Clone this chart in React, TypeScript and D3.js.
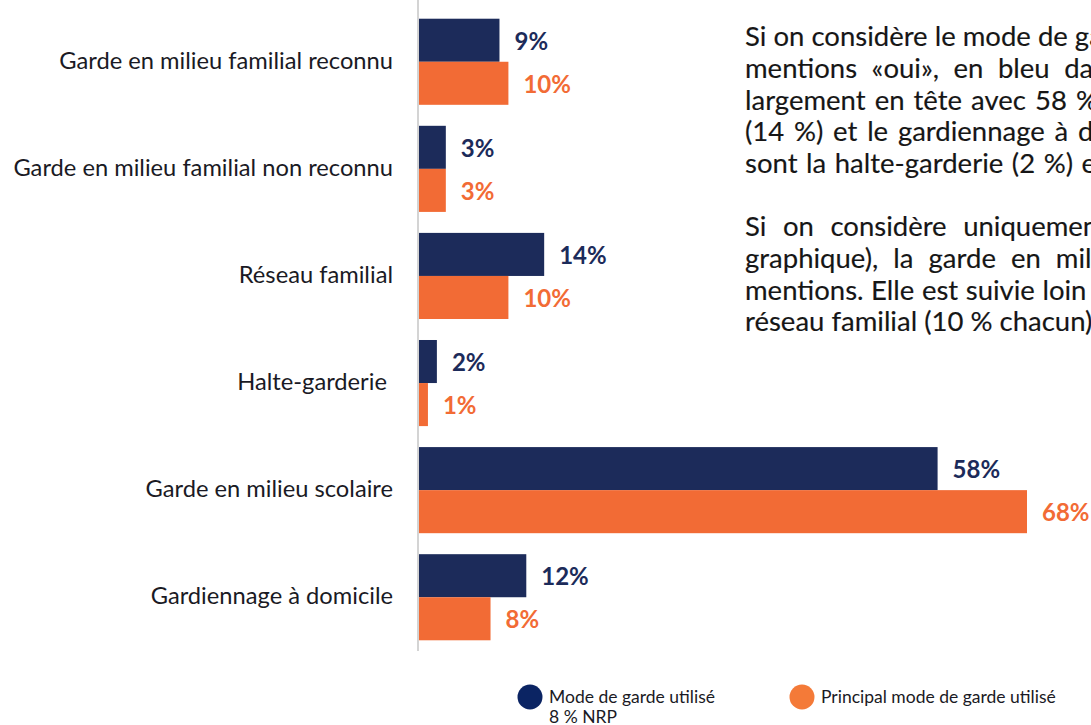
import { useEffect, useRef } from 'react';
import * as d3 from 'd3';

const categories = [
  'Garde en milieu familial reconnu',
  'Garde en milieu familial non reconnu',
  'Réseau familial',
  'Halte-garderie\u00a0',
  'Garde en milieu scolaire',
  'Gardiennage à domicile',
];
const modeUtilise = [9, 3, 14, 2, 58, 12];
const modePrincipal = [10, 3, 10, 1, 68, 8];
const seriesNames = ['Mode de garde utilisé', 'Principal mode de garde utilisé'];
const legendNote = '8 % NRP';

const paragraphLines = [
  'Si on considère le mode de garde utilisé (total des',
  'mentions «oui», en bleu dans le graphique), la garde',
  'largement en tête avec 58 % des mentions, suivie du',
  '(14 %) et le gardiennage à domicile (12 %). Les moins',
  'sont la halte-garderie (2 %) et la garde en milieu',
  'Si on considère uniquement le principal mode de garde',
  'graphique), la garde en milieu scolaire regroupe 68 %',
  'mentions. Elle est suivie loin derrière par la garde',
  'réseau familial (10 % chacun).',
];
// justified word spacing per line (px)
const lineSpacing = [0, 7.5, 2, 2.7, 1.5, 9.5, 8, 0.5, 0];
const lineBaseline = [46, 78, 109.5, 141, 172.5, 236, 268, 299.5, 331];

const NAVY = '#1c2b5a';
const ORANGE = '#f26b35';
const FONT = 'Lato, "Open Sans", sans-serif';

export default function App() {
  const svgRef = useRef<SVGSVGElement>(null);

  useEffect(() => {
    if (!svgRef.current) return;
    const svg = d3.select(svgRef.current);
    svg.selectAll('*').remove();

    const x = d3.scaleLinear().domain([0, 68]).range([419, 1027]);
    const y = d3
      .scaleBand()
      .domain(categories)
      .range([8, 651])
      .paddingInner(0.196)
      .paddingOuter(0.1);
    const ySub = d3
      .scaleBand()
      .domain(['a', 'b'])
      .range([0, y.bandwidth()]);

    const rows = categories.map((c, i) => ({
      cat: c,
      vals: [
        { key: 'a', v: modeUtilise[i], color: NAVY },
        { key: 'b', v: modePrincipal[i], color: ORANGE },
      ],
    }));

    // bars
    const g = svg
      .selectAll('.grp')
      .data(rows)
      .enter()
      .append('g')
      .attr('class', 'grp')
      .attr('transform', d => `translate(0,${y(d.cat)})`);

    g.selectAll('rect')
      .data(d => d.vals)
      .enter()
      .append('rect')
      .attr('x', x(0))
      .attr('y', d => ySub(d.key)!)
      .attr('width', d => x(d.v) - x(0))
      .attr('height', ySub.bandwidth())
      .attr('fill', d => d.color);

    g.selectAll('text.val')
      .data(d => d.vals)
      .enter()
      .append('text')
      .attr('class', 'val')
      .attr('x', d => x(d.v) + 15)
      .attr('y', d => ySub(d.key)! + ySub.bandwidth() / 2)
      .attr('dy', '0.4em')
      .attr('font-family', FONT)
      .attr('font-weight', 700)
      .attr('font-size', 24)
      .attr('fill', d => d.color)
      .text(d => `${d.v}%`);

    // category labels
    svg
      .selectAll('.cat')
      .data(categories)
      .enter()
      .append('text')
      .attr('class', 'cat')
      .attr('x', 393)
      .attr('y', d => y(d)! + y.bandwidth() / 2)
      .attr('dy', '0.3em')
      .attr('text-anchor', 'end')
      .attr('font-family', FONT)
      .attr('font-size', 23.7)
      .attr('fill', '#1a1a24')
      .text(d => d);

    // axis line
    svg
      .append('line')
      .attr('x1', 418)
      .attr('x2', 418)
      .attr('y1', 0)
      .attr('y2', 651)
      .attr('stroke', '#d4d4d4')
      .attr('stroke-width', 2);

    // legend
    const legend = [
      { name: seriesNames[0], color: '#0b2463', cx: 530 },
      { name: seriesNames[1], color: '#f47a38', cx: 802 },
    ];
    legend.forEach(l => {
      svg.append('circle').attr('cx', l.cx).attr('cy', 697).attr('r', 12.5).attr('fill', l.color);
      svg
        .append('text')
        .attr('x', l.cx + 19)
        .attr('y', 697)
        .attr('dy', '0.36em')
        .attr('font-family', FONT)
        .attr('font-size', 17.5)
        .attr('fill', '#1a1a24')
        .text(l.name);
    });
    svg
      .append('text')
      .attr('x', 549)
      .attr('y', 717)
      .attr('dy', '0.36em')
      .attr('font-family', FONT)
      .attr('font-size', 17.5)
      .attr('fill', '#1a1a24')
      .text(legendNote);

    // paragraph
    paragraphLines.forEach((line, i) => {
      svg
        .append('text')
        .attr('x', 745)
        .attr('y', lineBaseline[i])
        .attr('font-family', FONT)
        .attr('font-size', 27.5)
        .attr('word-spacing', lineSpacing[i])
        .attr('fill', '#161616')
        .attr('stroke', '#161616')
        .attr('stroke-width', 0.15)
        .text(line);
    });
  }, []);

  return (
    <svg
      ref={svgRef}
      width={1091}
      height={725}
      style={{ position: 'absolute', left: 0, top: 0, background: '#fff' }}
    />
  );
}
